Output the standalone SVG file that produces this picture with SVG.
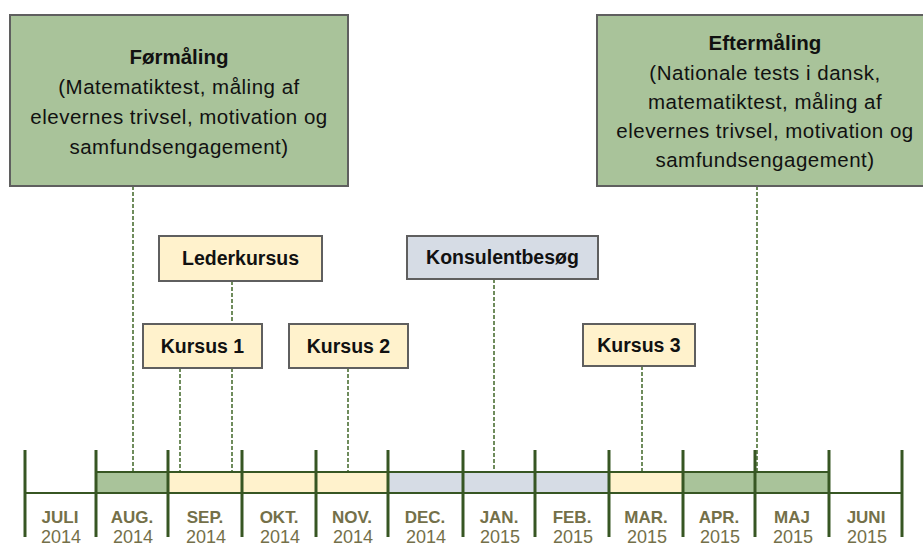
<svg xmlns="http://www.w3.org/2000/svg" width="923" height="549" viewBox="0 0 923 549">
<style>
.box{stroke:#5f5f5f;stroke-width:2}
.g{fill:#a9c39a}
.y{fill:#fff2cc}
.b{fill:#d6dce5}
.t{font-family:"Liberation Sans",Arial,sans-serif;font-size:20.5px;fill:#111;text-anchor:middle;letter-spacing:0.5px}
.bt{font-weight:bold;letter-spacing:0}
.s{font-size:19.5px}
.lab{font-family:"Liberation Sans",Arial,sans-serif;font-size:17px;font-weight:bold;fill:#747049;text-anchor:middle}
.yr{font-family:"Liberation Sans",Arial,sans-serif;font-size:18px;fill:#747049;text-anchor:middle}
.dash{stroke:#6f8c5c;stroke-width:2;stroke-dasharray:4 2;fill:none}
.tick{stroke:#375623;stroke-width:3}
.bar{stroke:#375623;stroke-width:2}
</style>
<rect width="923" height="549" fill="#fff"/>
<g id="connectors">
<line class="dash" x1="133" y1="186" x2="133" y2="472"/>
<line class="dash" x1="757" y1="186" x2="757" y2="472"/>
<line class="dash" x1="232" y1="281" x2="232" y2="324"/>
<line class="dash" x1="232" y1="368" x2="232" y2="472"/>
<line class="dash" x1="180" y1="368" x2="180" y2="472"/>
<line class="dash" x1="348" y1="368" x2="348" y2="472"/>
<line class="dash" x1="494" y1="279" x2="494" y2="472"/>
<line class="dash" x1="642" y1="366" x2="642" y2="472"/>
</g>
<g id="timeline">
<rect class="g bar" x="96" y="472" width="72" height="21"/>
<rect class="y bar" x="168" y="472" width="220" height="21"/>
<rect class="b bar" x="388" y="472" width="221" height="21"/>
<rect class="y bar" x="609" y="472" width="74" height="21"/>
<rect class="g bar" x="683" y="472" width="146" height="21"/>
<line class="bar" x1="25" y1="493" x2="902" y2="493"/>
<line class="tick" x1="25" y1="450" x2="25" y2="537"/>
<line class="tick" x1="96" y1="450" x2="96" y2="537"/>
<line class="tick" x1="168" y1="450" x2="168" y2="537"/>
<line class="tick" x1="242" y1="450" x2="242" y2="537"/>
<line class="tick" x1="316" y1="450" x2="316" y2="537"/>
<line class="tick" x1="388" y1="450" x2="388" y2="537"/>
<line class="tick" x1="463" y1="450" x2="463" y2="537"/>
<line class="tick" x1="535" y1="450" x2="535" y2="537"/>
<line class="tick" x1="609" y1="450" x2="609" y2="537"/>
<line class="tick" x1="683" y1="450" x2="683" y2="537"/>
<line class="tick" x1="755" y1="450" x2="755" y2="537"/>
<line class="tick" x1="829" y1="450" x2="829" y2="537"/>
<line class="tick" x1="902" y1="450" x2="902" y2="537"/>
<text class="lab" x="60" y="523">JULI</text><text class="yr" x="61" y="543">2014</text>
<text class="lab" x="132" y="523">AUG.</text><text class="yr" x="133" y="543">2014</text>
<text class="lab" x="205" y="523">SEP.</text><text class="yr" x="206" y="543">2014</text>
<text class="lab" x="279" y="523">OKT.</text><text class="yr" x="280" y="543">2014</text>
<text class="lab" x="352" y="523">NOV.</text><text class="yr" x="353" y="543">2014</text>
<text class="lab" x="425" y="523">DEC.</text><text class="yr" x="426" y="543">2014</text>
<text class="lab" x="499" y="523">JAN.</text><text class="yr" x="500" y="543">2015</text>
<text class="lab" x="572" y="523">FEB.</text><text class="yr" x="573" y="543">2015</text>
<text class="lab" x="646" y="523">MAR.</text><text class="yr" x="647" y="543">2015</text>
<text class="lab" x="719" y="523">APR.</text><text class="yr" x="720" y="543">2015</text>
<text class="lab" x="792" y="523">MAJ</text><text class="yr" x="793" y="543">2015</text>
<text class="lab" x="866" y="523">JUNI</text><text class="yr" x="867" y="543">2015</text>
</g>
<g id="formaaling">
<rect class="box g" x="10" y="15" width="338" height="171"/>
<text class="t bt" x="179" y="64">Førmåling</text>
<text class="t" x="179" y="94">(Matematiktest, måling af</text>
<text class="t" x="179" y="124">elevernes trivsel, motivation og</text>
<text class="t" x="179" y="154">samfundsengagement)</text>
</g>
<g id="eftermaaling">
<rect class="box g" x="597" y="15" width="336" height="171"/>
<text class="t bt" x="765" y="50">Eftermåling</text>
<text class="t" x="765" y="80">(Nationale tests i dansk,</text>
<text class="t" x="765" y="109">matematiktest, måling af</text>
<text class="t" x="765" y="138">elevernes trivsel, motivation og</text>
<text class="t" x="765" y="167">samfundsengagement)</text>
</g>
<g id="lederkursus">
<rect class="box y" x="159" y="236" width="163" height="45"/>
<text class="t bt s" x="240.5" y="265">Lederkursus</text>
</g>
<g id="konsulentbesoeg">
<rect class="box b" x="407" y="236" width="191" height="43"/>
<text class="t bt s" x="502.5" y="264">Konsulentbesøg</text>
</g>
<g id="kursus1">
<rect class="box y" x="143" y="324" width="119" height="44"/>
<text class="t bt s" x="202.5" y="353">Kursus 1</text>
</g>
<g id="kursus2">
<rect class="box y" x="289" y="324" width="119" height="44"/>
<text class="t bt s" x="348.5" y="353">Kursus 2</text>
</g>
<g id="kursus3">
<rect class="box y" x="583" y="324" width="112" height="42"/>
<text class="t bt s" x="639" y="352">Kursus 3</text>
</g>
</svg>
